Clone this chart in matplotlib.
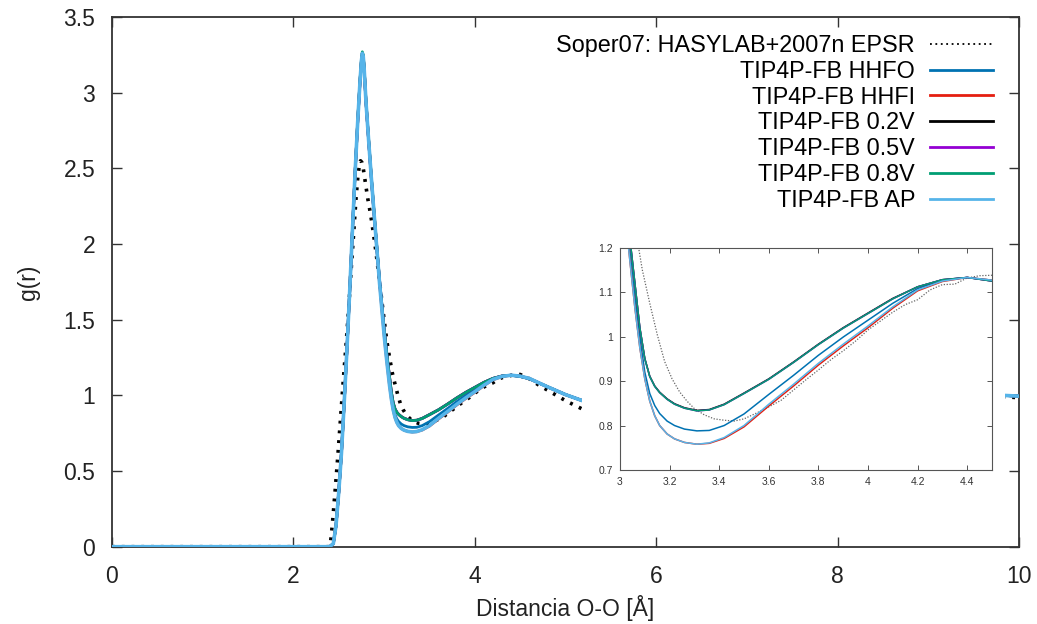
import matplotlib
matplotlib.use('Agg')
import matplotlib.pyplot as plt
from matplotlib.lines import Line2D
from matplotlib.ticker import FuncFormatter

plt.rcParams['font.family'] = ['Liberation Sans', 'DejaVu Sans']

# ---------------- data ----------------
r_sim = [0.0, 2.40, 2.44, 2.47, 2.50, 2.53, 2.56, 2.59, 2.62, 2.65,
         2.68, 2.71, 2.735, 2.75, 2.76, 2.77, 2.78, 2.80, 2.83, 2.86,
         2.90, 2.95,
         3.00, 3.02, 3.04, 3.06, 3.08, 3.10, 3.12, 3.14, 3.16, 3.19,
         3.22, 3.26, 3.31, 3.36, 3.42, 3.50,
         3.60, 3.70, 3.80, 3.90, 4.00, 4.10, 4.20, 4.30, 4.40, 4.50,
         4.60, 4.80, 5.00, 5.20, 5.50, 6.00, 6.50, 7.00, 7.50, 8.00,
         8.50, 9.00, 9.50, 9.82, 10.00]

g_hhfo = [0, 0, 0.02, 0.14, 0.36, 0.62, 0.95, 1.30, 1.68, 2.08,
          2.47, 2.82, 3.08, 3.21, 3.26, 3.24, 3.16, 2.94, 2.68, 2.43,
          2.12, 1.75,
          1.42, 1.30, 1.19, 1.09, 1.00, 0.92, 0.872, 0.845, 0.827, 0.810,
          0.800, 0.792, 0.788, 0.789, 0.800, 0.826,
          0.870, 0.913, 0.958, 0.999, 1.037, 1.075, 1.108, 1.127, 1.133, 1.127,
          1.112, 1.057, 1.005, 0.962, 0.92, 0.93, 1.01, 1.04, 1.01, 0.98,
          0.985, 1.01, 1.01, 1.0, 0.995]

g_hhfi = [0, 0, 0.02, 0.14, 0.36, 0.62, 0.95, 1.30, 1.68, 2.08,
          2.47, 2.82, 3.08, 3.21, 3.26, 3.24, 3.16, 2.94, 2.68, 2.43,
          2.12, 1.74,
          1.40, 1.28, 1.17, 1.065, 0.975, 0.905, 0.855, 0.822, 0.800, 0.781,
          0.770, 0.762, 0.758, 0.760, 0.771, 0.797,
          0.844, 0.889, 0.936, 0.979, 1.020, 1.064, 1.103, 1.124, 1.133, 1.127,
          1.112, 1.057, 1.005, 0.962, 0.92, 0.93, 1.01, 1.04, 1.01, 0.98,
          0.985, 1.01, 1.01, 1.0, 0.995]

g_02v = [0, 0, 0.02, 0.14, 0.36, 0.62, 0.95, 1.30, 1.68, 2.08,
         2.47, 2.82, 3.08, 3.21, 3.26, 3.24, 3.16, 2.94, 2.68, 2.43,
         2.12, 1.76,
         1.44, 1.33, 1.22, 1.12, 1.02, 0.951, 0.911, 0.889, 0.875, 0.860,
         0.849, 0.840, 0.834, 0.836, 0.848, 0.873,
         0.905, 0.943, 0.983, 1.020, 1.053, 1.086, 1.112, 1.128, 1.133, 1.125,
         1.11, 1.057, 1.005, 0.962, 0.92, 0.93, 1.01, 1.04, 1.01, 0.98,
         0.985, 1.01, 1.01, 1.0, 0.995]

g_05v = [0, 0, 0.02, 0.14, 0.36, 0.62, 0.95, 1.30, 1.68, 2.08,
         2.47, 2.82, 3.08, 3.21, 3.26, 3.24, 3.16, 2.94, 2.68, 2.43,
         2.12, 1.76,
         1.44, 1.33, 1.22, 1.12, 1.02, 0.95, 0.91, 0.888, 0.874, 0.859,
         0.848, 0.839, 0.833, 0.835, 0.847, 0.872,
         0.904, 0.942, 0.982, 1.019, 1.052, 1.085, 1.112, 1.128, 1.133, 1.125,
         1.11, 1.057, 1.005, 0.962, 0.92, 0.93, 1.01, 1.04, 1.01, 0.98,
         0.985, 1.01, 1.01, 1.0, 0.995]

g_08v = [0, 0, 0.02, 0.14, 0.36, 0.62, 0.95, 1.30, 1.68, 2.08,
         2.47, 2.83, 3.09, 3.22, 3.27, 3.25, 3.17, 2.95, 2.69, 2.44,
         2.13, 1.76,
         1.44, 1.33, 1.22, 1.12, 1.02, 0.95, 0.91, 0.888, 0.874, 0.859,
         0.848, 0.839, 0.833, 0.835, 0.847, 0.872,
         0.904, 0.942, 0.982, 1.019, 1.052, 1.085, 1.112, 1.128, 1.133, 1.125,
         1.11, 1.057, 1.005, 0.962, 0.92, 0.93, 1.01, 1.04, 1.01, 0.98,
         0.985, 1.01, 1.01, 1.0, 0.995]

g_ap = [0, 0, 0.02, 0.14, 0.36, 0.62, 0.95, 1.30, 1.68, 2.08,
        2.47, 2.82, 3.08, 3.21, 3.26, 3.24, 3.16, 2.94, 2.68, 2.43,
        2.12, 1.74,
        1.40, 1.28, 1.17, 1.065, 0.975, 0.905, 0.855, 0.822, 0.800, 0.781,
        0.770, 0.762, 0.758, 0.761, 0.773, 0.800,
        0.848, 0.893, 0.940, 0.983, 1.024, 1.067, 1.105, 1.125, 1.133, 1.127,
        1.112, 1.057, 1.005, 0.962, 0.92, 0.93, 1.01, 1.04, 1.01, 0.98,
        0.985, 1.01, 1.01, 1.0, 0.995]

r_exp = [0.0, 2.37, 2.40, 2.41, 2.43, 2.46, 2.49, 2.52, 2.55, 2.58,
         2.61, 2.64, 2.67, 2.69, 2.71, 2.725, 2.74, 2.755, 2.77, 2.79,
         2.82, 2.85, 2.88, 2.91, 2.94, 2.97, 3.00, 3.03, 3.06, 3.09,
         3.12, 3.15, 3.18, 3.21, 3.24, 3.27, 3.30, 3.34, 3.38, 3.42,
         3.46, 3.50, 3.55, 3.60, 3.65, 3.70, 3.75, 3.80, 3.85, 3.90,
         3.95, 4.00, 4.05, 4.10, 4.15, 4.20, 4.25, 4.30, 4.35, 4.40,
         4.45, 4.50, 4.60, 4.70, 4.80, 5.00, 5.20, 5.50, 6.00, 6.50,
         7.00, 7.50, 8.00, 8.50, 9.00, 9.50, 10.00]

g_exp = [0, 0, 0.0, 0.03, 0.15, 0.37, 0.60, 0.85, 1.10, 1.33,
         1.58, 1.86, 2.12, 2.30, 2.44, 2.51, 2.55, 2.54, 2.50, 2.42,
         2.30, 2.20, 2.08, 1.95, 1.80, 1.65, 1.50, 1.36, 1.25, 1.15,
         1.075, 1.005, 0.944, 0.905, 0.876, 0.855, 0.838, 0.824, 0.815, 0.812,
         0.810, 0.815, 0.828, 0.842, 0.857, 0.880, 0.903, 0.925, 0.948, 0.968,
         0.990, 1.015, 1.035, 1.055, 1.072, 1.083, 1.105, 1.117, 1.118, 1.132,
         1.137, 1.138, 1.11, 1.07, 1.035, 0.965, 0.905, 0.87, 0.93, 1.03,
         1.04, 1.0, 0.97, 0.99, 1.01, 1.0, 0.985]

labels = ["Soper07: HASYLAB+2007n EPSR", "TIP4P-FB HHFO", "TIP4P-FB HHFI",
          "TIP4P-FB 0.2V", "TIP4P-FB 0.5V", "TIP4P-FB 0.8V", "TIP4P-FB AP"]
sim_series = [g_hhfo, g_hhfi, g_02v, g_05v, g_08v, g_ap]
sim_colors = ["#0072b2", "#e51e10", "#000000", "#9400d3", "#009e73", "#56b4e9"]

x_ticks = [0, 2, 4, 6, 8, 10]
y_ticks = [0, 0.5, 1, 1.5, 2, 2.5, 3, 3.5]
inset_x_ticks = [3, 3.2, 3.4, 3.6, 3.8, 4, 4.2, 4.4]
inset_y_ticks = [0.7, 0.8, 0.9, 1, 1.1, 1.2]

fmt = FuncFormatter(lambda v, p: "%g" % round(v, 6))

# ---------------- figure ----------------
W, H = 1037, 624
fig = plt.figure(figsize=(W / 100, H / 100), dpi=100)
ax = fig.add_axes([112 / W, 1 - 546.7 / H, (1019 - 112) / W, (546.7 - 17) / H])

ax.plot(r_exp, g_exp, color="black", lw=2.6, linestyle=(0, (0.8, 1.9)),
        dash_capstyle="butt", zorder=2)
for g, c in zip(sim_series, sim_colors):
    ax.plot(r_sim, g, color=c, lw=2.6 if c == "#56b4e9" else 2.0, zorder=3,
            solid_capstyle="butt")

ax.set_xlim(0, 10)
ax.set_ylim(0, 3.5)
ax.set_xticks(x_ticks)
ax.set_yticks(y_ticks)
ax.xaxis.set_major_formatter(fmt)
ax.yaxis.set_major_formatter(fmt)
ax.tick_params(direction="in", length=7, width=1.0, color="#333333",
               labelsize=16.5, top=True, right=True, colors="#222222")
ax.tick_params(axis="x", pad=13)
ax.tick_params(axis="y", pad=12)
for s in ax.spines.values():
    s.set_linewidth(1.3)
    s.set_color("#333333")
ax.set_xlabel("Distancia O-O [Å]", fontsize=16.5, labelpad=5, color="#222222")
ax.set_ylabel("g(r)", fontsize=16.5, labelpad=17, color="#222222")

# legend
handles = [Line2D([], [], color="black", lw=1.3, linestyle=(0, (1, 2)))]
handles += [Line2D([], [], color=c, lw=2.0) for c in sim_colors]
fig.legend(handles, labels, loc="upper right",
           bbox_to_anchor=(993 / W, 1 - 34 / H), frameon=False,
           markerfirst=False, fontsize=16.8, handlelength=2.7,
           handletextpad=0.64, labelspacing=0.12, borderpad=0,
           borderaxespad=0)

# white cover behind inset
cover = fig.add_axes([582 / W, 1 - 495 / H, (1005 - 582) / W, (495 - 236) / H])
cover.set_facecolor("white")
cover.set_xticks([])
cover.set_yticks([])
for s in cover.spines.values():
    s.set_visible(False)
cover.set_zorder(5)

# inset
axi = fig.add_axes([620 / W, 1 - 470 / H, 372 / W, (470 - 247.7) / H])
axi.set_zorder(6)
axi.plot(r_exp, g_exp, color="#666666", lw=0.9, linestyle=(0, (1, 1.3)))
for g, c in zip(sim_series, sim_colors):
    axi.plot(r_sim, g, color=c, lw=1.1)
axi.set_xlim(3, 4.5)
axi.set_ylim(0.7, 1.2)
axi.set_xticks(inset_x_ticks)
axi.set_yticks(inset_y_ticks)
axi.xaxis.set_major_formatter(fmt)
axi.yaxis.set_major_formatter(fmt)
axi.tick_params(direction="in", length=3.5, width=0.7, color="#555555",
                labelsize=7.5, top=True, right=True, colors="#333333")
axi.tick_params(axis="x", pad=5)
axi.tick_params(axis="y", pad=5)
for s in axi.spines.values():
    s.set_linewidth(0.8)
    s.set_color("#555555")

fig.savefig("out.png", dpi=100)
